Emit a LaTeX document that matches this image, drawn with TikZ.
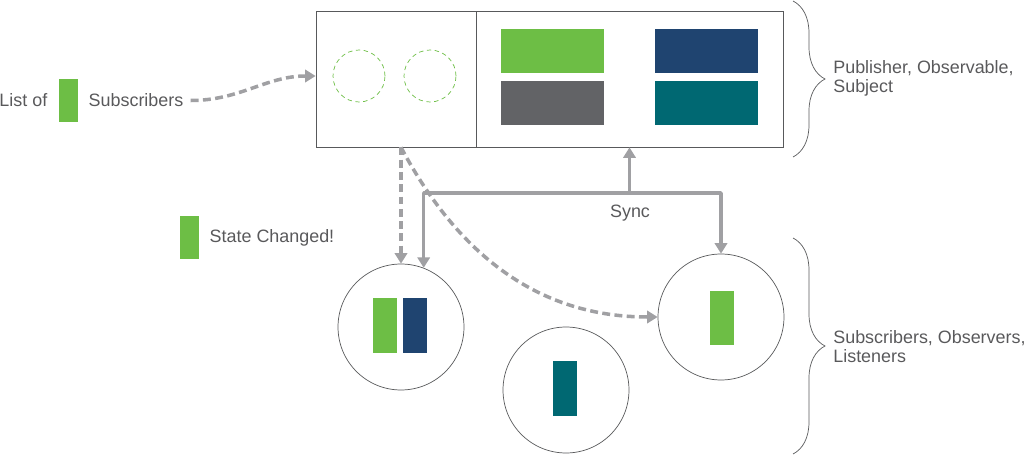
\documentclass[tikz,border=0pt]{standalone}
\usepackage{fontspec}
\setmainfont{Liberation Sans}
\usetikzlibrary{positioning,arrows.meta,decorations.pathreplacing}
\definecolor{subgreen}{RGB}{109,190,69}
\definecolor{subblue}{RGB}{31,68,112}
\definecolor{subgray}{RGB}{98,99,102}
\definecolor{subteal}{RGB}{0,104,114}
\definecolor{flowgray}{RGB}{160,160,163}
\definecolor{edgegray}{RGB}{88,89,91}
\definecolor{txtgray}{RGB}{89,89,91}

\begin{document}
\begin{tikzpicture}[x=0.02cm, y=-0.02cm, >={Triangle[width=7pt,length=6pt]}]
    \tikzstyle{lbl}=[text=txtgray, font=\fontsize{10.2}{10.8}\selectfont, inner sep=0pt, align=left]
    \tikzstyle{panel}=[rectangle, draw=edgegray, minimum height=2.72cm, inner sep=0pt]
    \tikzstyle{subslot}=[circle, draw=subgreen, dash pattern=on 2.5pt off 2pt, minimum size=1.04cm]
    \tikzstyle{statebox}=[rectangle, minimum width=2.06cm, minimum height=0.88cm]
    \tikzstyle{subcircle}=[circle, draw=edgegray, minimum size=2.52cm]
    \tikzstyle{subbar}=[rectangle, minimum width=0.48cm, minimum height=1.1cm]
    \tikzstyle{legendbar}=[rectangle, fill=subgreen, minimum width=0.38cm, minimum height=0.86cm]
    \tikzstyle{notify}=[draw=flowgray, line width=2pt, dash pattern=on 4.5pt off 2.5pt, ->]
    \tikzstyle{syncflow}=[draw=flowgray, line width=2pt, line join=round]
    \tikzstyle{groupbrace}=[draw=edgegray, decorate, decoration={brace, amplitude=0.64cm}]
    \useasboundingbox (0,0) rectangle (1031,456);

    % publisher
    \node[panel, minimum width=3.2cm] (publeft) at (396,79) {};
    \node[panel, minimum width=6.14cm] (pubright) at (629.5,79) {};
    \node[subslot] (slotA) at (359,76) {};
    \node[subslot] (slotB) at (430,76) {};
    \node[statebox, fill=subgreen] (stA) at (552.5,51) {};
    \node[statebox, fill=subgray] (stB) at (552.5,103) {};
    \node[statebox, fill=subblue] (stC) at (706.5,51) {};
    \node[statebox, fill=subteal] (stD) at (706.5,103) {};

    % subscribers
    \node[subcircle] (circ1) at (401,327) {};
    \node[subcircle] (circ2) at (566,390) {};
    \node[subcircle] (circ3) at (721,317) {};
    \node[subbar, fill=subgreen] (barA) at (385,325.5) {};
    \node[subbar, fill=subblue] (barB) at (414.5,325.5) {};
    \node[subbar, fill=subteal] (barC) at (565,388.5) {};
    \node[subbar, fill=subgreen] (barD) at (722,318) {};

    % legend
    \node[legendbar] (lsub) at (68.5,100.5) {};
    \node[lbl, left=0.22cm of lsub] (listof) {List of};
    \node[lbl, right=0.2cm of lsub] (subtxt) {Subscribers};
    \node[legendbar] (lstate) at (189.5,237.5) {};
    \node[lbl, right=0.2cm of lstate] (statetxt) {State Changed!};

    % braces
    \draw[groupbrace] (793,1) -- (793,157);
    \draw[groupbrace] (793,238) -- (793,454);
    \node[lbl, anchor=west] (pubtxt) at (833,78) {Publisher, Observable,\\Subject};
    \node[lbl, anchor=west] (subsctxt) at (833,347) {Subscribers, Observers,\\Listeners};

    % flows
    \draw[notify] ([xshift=0.14cm]subtxt.east) to[out=0, in=180] ([yshift=0.06cm]publeft.west);
    \draw[notify] (circ1 |- publeft.south) -- (circ1.north);
    \draw[notify] (circ1 |- publeft.south) to[out=-62, in=180] (circ3.west);
    \coordinate (syncM) at (pubright.south |- 0,193);
    \draw[syncflow, <->] (circ1.69) |- (syncM) -| (circ3.north);
    \draw[syncflow, ->] (syncM) -- (pubright.south);
    \node[lbl] (synctxt) at (630,213) {Sync};
\end{tikzpicture}
\end{document}
